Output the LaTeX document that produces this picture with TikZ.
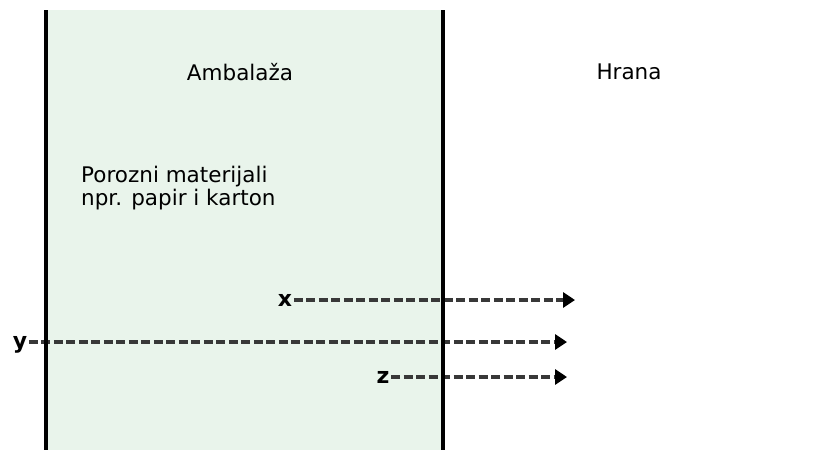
\documentclass[tikz,border=0pt]{standalone}
\usepackage{fontspec}
\setmainfont{DejaVu Sans}
\usetikzlibrary{positioning,arrows.meta}
\definecolor{ambalaza}{HTML}{E9F4EB}
\definecolor{crtica}{HTML}{383838}

\begin{document}
\begin{tikzpicture}[
x=1pt, y=-1pt,
zid/.style={line width=4pt, black},
natpis/.style={inner sep=0pt, font=\fontsize{21.5}{23}\selectfont},
slovo/.style={inner sep=1.5pt, font=\fontsize{22}{24}\selectfont\bfseries},
prolaz/.style={crtica, line width=3.4pt, dash pattern=on 9pt off 3.5pt, -{Triangle[length=12pt,width=15pt,color=black]}},
]
\useasboundingbox (0,0) rectangle (835,450);
%Packaging
\fill[ambalaza] (46,10) rectangle (443,450);

%Nodes
\node[natpis]    (ambalaza)   at (240,72)              {Ambalaža};
\node[natpis]    (hrana)      at (629,72)              {Hrana};
\node[natpis, anchor=north west, align=left] (porozni) at (81,166) {Porozni materijali\\npr. papir i karton};

\node[slovo]     (lbl_x)      at (285,300)             {x};
\node[slovo]     (lbl_y)      at (20,345)              {y};
\node[slovo]     (lbl_z)      at (383,377)             {z};

\coordinate      (kraj_x)     at (575,300);
\coordinate      (kraj_y)     at (567,342);
\coordinate      (kraj_z)     at (567,377);

%Lines
\draw[prolaz] (lbl_x.east) -- (kraj_x);
\draw[prolaz] (lbl_y.east |- kraj_y) -- (kraj_y);
\draw[prolaz] (lbl_z.east) -- (kraj_z);

%Walls
\draw[zid] (46,10) -- (46,450);
\draw[zid] (443,10) -- (443,450);

\end{tikzpicture}
\end{document}
